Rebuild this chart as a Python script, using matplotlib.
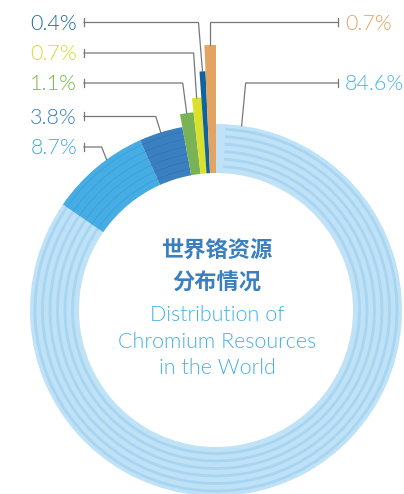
import math
import matplotlib
matplotlib.use('Agg')
import matplotlib.pyplot as plt
from matplotlib.patches import Wedge

# data
labels = ['84.6%', '8.7%', '3.8%', '1.1%', '0.7%', '0.4%', '0.7%']
shares = [84.6, 8.7, 3.8, 1.1, 0.7, 0.4, 0.7]
title_cn = ['世界铬资源', '分布情况']
title_en = ['Distribution of', 'Chromium Resources', 'in the World']

# style
colors = ['#bfe2f7', '#45ade4', '#3a80c1', '#7ab356', '#dbe12b', '#0f64a0', '#e2a462']
label_colors = ['#4ab4ea', '#41a9e2', '#3a7fc0', '#7ab648', '#d5dc2c', '#1a6aa3', '#e2a462']
CX, CY = 216, 310          # pixel coords, y grows downward
R_OUT, R_IN = 186, 137
bar_top = [186, 186, 186, 199, 213, 239, 265]
anchor_frac = [0.026, 0.62, 0.5, 0.5, 0.5, 0.5, 0.5]
label_y = [83, 147, 116.5, 83, 53, 22.5, 22.5]
elbow_dx = [4, -5, -5, -4, -3, -4, 0]
side = ['R', 'L', 'L', 'L', 'L', 'L', 'R']
X_LEFT, X_RIGHT = 84, 338
LINE_C = '#777777'
EN_FONT = ['Lato', 'DejaVu Sans']
EN_WEIGHT = 300

fig = plt.figure(figsize=(4.04, 4.94), dpi=100)
ax = fig.add_axes([0, 0, 1, 1])

# y axis is inverted below, so counterclock=True with start -90 reads clockwise from 12 o'clock
wedges, _ = ax.pie(shares, colors=colors, startangle=-90, counterclock=True,
                   radius=R_OUT, center=(CX, CY),
                   wedgeprops=dict(width=R_OUT - R_IN, linewidth=0))
for w, r in zip(wedges, bar_top):
    w.set_radius(r)
    w.set_width(r - R_IN)

# concentric stripes
stripe_r = [181, 173.5, 166, 158.5, 151, 143.5]
w0 = wedges[0]
for r in stripe_r:
    ax.add_patch(Wedge((CX, CY), r + 1.4, w0.theta1 + 3, w0.theta2, width=2.8,
                       color='#a8d5f2', lw=0))
for w, c in [(wedges[1], '#3a9fd8'), (wedges[2], '#3473b2')]:
    for r in stripe_r:
        ax.add_patch(Wedge((CX, CY), r + 0.4, w.theta1, w.theta2, width=0.8,
                           color=c, lw=0))

# leader lines and labels
for i, w in enumerate(wedges):
    rad = math.radians(w.theta1 + anchor_frac[i] * (w.theta2 - w.theta1))
    px = CX + bar_top[i] * math.cos(rad)
    py = CY + bar_top[i] * math.sin(rad)
    ly = label_y[i]
    ex = px + elbow_dx[i]
    xend = X_LEFT if side[i] == 'L' else X_RIGHT
    ax.plot([px, ex, xend], [py, ly, ly], color=LINE_C, lw=0.9, solid_joinstyle='miter')
    ax.plot([xend, xend], [ly - 4, ly + 4], color=LINE_C, lw=0.9)
    if side[i] == 'L':
        ax.text(77, ly + 1, labels[i], ha='right', va='center', fontsize=15.5,
                fontweight=EN_WEIGHT, color=label_colors[i], family=EN_FONT)
    else:
        ax.text(345, ly + 1, labels[i], ha='left', va='center', fontsize=15.5,
                fontweight=EN_WEIGHT, color=label_colors[i], family=EN_FONT)

# centre title
for t, y in zip(title_cn, [250, 283]):
    ax.text(217, y, t, ha='center', va='center', fontsize=16, fontweight='bold',
            color='#3a7fc0', family=['Noto Sans CJK SC', 'DejaVu Sans'])
for t, y in zip(title_en, [315, 342, 368]):
    ax.text(217, y, t, ha='center', va='center', fontsize=15.5, fontweight=EN_WEIGHT,
            color='#45b0e6', family=EN_FONT)

ax.set_xlim(0, 404)
ax.set_ylim(494, 0)
ax.axis('off')
fig.savefig('out.png', dpi=100)
